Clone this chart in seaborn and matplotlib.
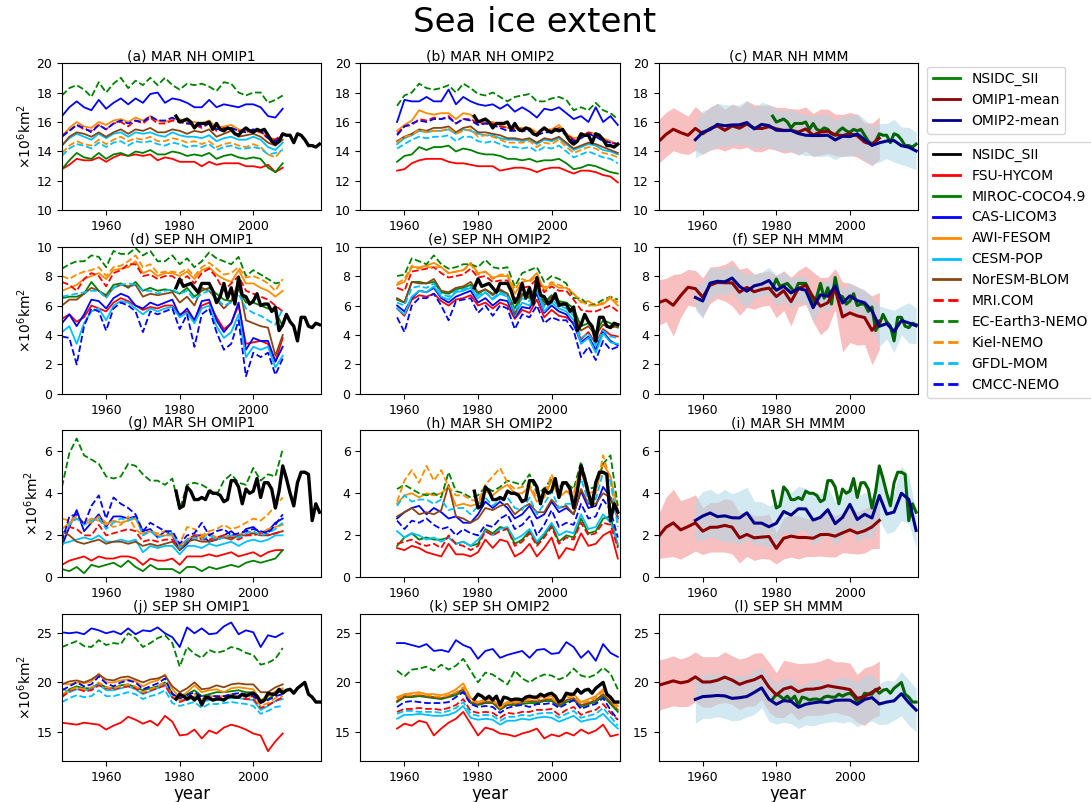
import numpy as np
import pandas as pd
import seaborn as sns
import matplotlib.pyplot as plt
from matplotlib.lines import Line2D

# x axes: OMIP1 1948-2008, OMIP2 1958-2018 (every 2nd year), NSIDC 1979-2018 (yearly)
years_omip1 = np.arange(1948, 2010, 2)
years_omip2 = np.arange(1958, 2020, 2)
years_obs = np.arange(1979, 2019)

models = ["FSU-HYCOM", "MIROC-COCO4.9", "CAS-LICOM3", "AWI-FESOM", "CESM-POP", "NorESM-BLOM",
          "MRI.COM", "EC-Earth3-NEMO", "Kiel-NEMO", "GFDL-MOM", "CMCC-NEMO"]
colors = {"FSU-HYCOM": "red", "MIROC-COCO4.9": "green", "CAS-LICOM3": "blue",
          "AWI-FESOM": "darkorange", "CESM-POP": "deepskyblue", "NorESM-BLOM": "saddlebrown",
          "MRI.COM": "red", "EC-Earth3-NEMO": "green", "Kiel-NEMO": "darkorange",
          "GFDL-MOM": "deepskyblue", "CMCC-NEMO": "blue"}
styles = {m: ("-" if i < 6 else "--") for i, m in enumerate(models)}

# ---- March NH (10^6 km2) ----
mar_nh_omip1 = {
    "FSU-HYCOM": [12.8, 13.1, 13.5, 13.4, 13.4, 13.6, 13.3, 13.6, 13.8, 13.7, 13.8, 13.7, 13.8, 13.4, 13.6, 13.5, 13.3, 13.3, 13.3, 13.0, 13.3, 13.1, 13.2, 13.2, 13.2, 13.0, 13.0, 12.9, 13.1, 12.6, 12.9],
    "MIROC-COCO4.9": [12.8, 13.4, 13.9, 13.6, 13.5, 13.9, 13.5, 13.8, 13.9, 13.7, 14.0, 13.9, 14.1, 13.8, 13.8, 14.0, 13.9, 13.7, 13.8, 13.7, 13.9, 13.5, 13.7, 13.8, 13.6, 13.5, 13.6, 13.5, 12.9, 12.6, 13.2],
    "CAS-LICOM3": [16.4, 17.0, 17.4, 17.0, 16.8, 17.5, 16.9, 17.3, 17.6, 17.2, 17.6, 17.3, 17.9, 18.0, 17.3, 17.6, 17.5, 17.3, 17.0, 17.0, 17.5, 17.0, 17.2, 17.1, 17.0, 17.2, 17.2, 17.0, 16.4, 16.3, 16.9],
    "AWI-FESOM": [15.0, 15.6, 16.0, 15.7, 15.6, 16.0, 15.8, 16.1, 16.2, 16.0, 16.3, 16.1, 16.4, 16.1, 16.0, 16.2, 16.2, 16.0, 16.0, 15.9, 16.1, 15.6, 15.7, 15.8, 15.5, 15.4, 15.4, 15.3, 15.0, 14.8, 15.1],
    "CESM-POP": [14.4, 14.9, 15.2, 15.0, 14.8, 15.2, 14.9, 15.2, 15.3, 15.0, 15.3, 15.2, 15.3, 15.1, 15.0, 15.3, 15.1, 15.0, 15.0, 14.9, 15.1, 14.7, 14.9, 15.0, 14.8, 14.8, 15.0, 14.8, 14.3, 14.1, 14.6],
    "NorESM-BLOM": [14.4, 15.0, 15.3, 15.2, 15.0, 15.3, 15.0, 15.3, 15.5, 15.2, 15.5, 15.4, 15.6, 15.3, 15.3, 15.5, 15.4, 15.2, 15.4, 15.3, 15.5, 15.0, 15.2, 15.4, 15.0, 15.1, 15.2, 15.0, 14.6, 14.4, 14.8],
    "MRI.COM": [15.1, 15.4, 15.8, 15.5, 15.4, 15.8, 15.5, 15.9, 16.0, 15.7, 16.1, 15.9, 16.3, 15.9, 15.9, 16.1, 16.0, 15.9, 15.8, 15.6, 15.9, 15.4, 15.6, 15.6, 15.4, 15.3, 15.5, 15.3, 14.9, 14.8, 15.2],
    "EC-Earth3-NEMO": [17.8, 18.3, 18.5, 18.2, 17.7, 18.7, 18.0, 18.6, 19.0, 18.3, 18.8, 18.5, 19.0, 18.5, 19.0, 18.5, 18.2, 18.6, 18.5, 18.6, 18.4, 18.1, 18.7, 18.6, 18.0, 17.8, 18.0, 18.0, 17.3, 17.5, 17.8],
    "Kiel-NEMO": [13.9, 14.4, 14.7, 14.5, 14.4, 14.8, 14.5, 14.8, 15.0, 14.7, 14.9, 14.8, 15.0, 14.7, 14.7, 14.9, 14.8, 14.6, 14.7, 14.5, 14.7, 14.3, 14.5, 14.6, 14.4, 14.3, 14.5, 14.3, 13.8, 13.6, 14.2],
    "GFDL-MOM": [13.7, 14.2, 14.5, 14.4, 14.2, 14.6, 14.3, 14.6, 14.7, 14.4, 14.7, 14.6, 14.7, 14.5, 14.4, 14.6, 14.5, 14.3, 14.4, 14.3, 14.5, 14.1, 14.3, 14.4, 14.2, 14.2, 14.3, 14.2, 13.8, 13.9, 14.1],
    "CMCC-NEMO": [15.0, 15.4, 15.8, 15.6, 15.3, 15.8, 15.5, 15.9, 16.1, 15.9, 16.1, 16.0, 16.4, 16.1, 16.1, 16.3, 16.0, 15.9, 15.9, 15.7, 15.9, 15.5, 15.5, 15.6, 15.4, 15.3, 15.5, 15.4, 14.9, 14.7, 15.1],
}
mar_nh_omip2 = {
    "FSU-HYCOM": [12.7, 12.8, 13.2, 13.4, 13.5, 13.5, 13.5, 13.3, 13.2, 13.2, 13.1, 13.0, 13.0, 13.0, 12.7, 12.8, 12.9, 12.9, 12.8, 12.6, 12.8, 12.9, 12.9, 12.7, 12.5, 12.7, 12.7, 12.6, 12.4, 12.3, 11.9],
    "MIROC-COCO4.9": [13.3, 13.7, 13.8, 14.3, 14.1, 14.3, 14.3, 14.4, 14.0, 14.2, 14.1, 13.9, 13.8, 13.8, 13.7, 13.5, 13.5, 13.4, 13.5, 13.3, 13.4, 13.4, 13.5, 13.2, 12.8, 12.9, 13.1, 13.0, 12.8, 12.6, 12.5],
    "CAS-LICOM3": [16.0, 17.5, 17.4, 17.4, 17.7, 17.4, 17.4, 18.2, 17.2, 17.7, 17.4, 17.2, 17.1, 17.2, 16.9, 17.2, 16.7, 17.0, 16.7, 16.3, 16.9, 16.8, 17.0, 16.6, 16.2, 16.4, 16.0, 17.0, 16.0, 16.4, 15.8],
    "AWI-FESOM": [15.4, 15.8, 16.1, 16.8, 16.6, 16.5, 16.6, 16.6, 16.2, 16.6, 16.5, 16.0, 16.0, 16.0, 15.8, 15.6, 15.6, 15.6, 15.6, 15.3, 15.5, 15.5, 15.8, 15.2, 14.9, 15.0, 15.3, 15.2, 14.9, 14.7, 14.5],
    "CESM-POP": [14.5, 14.9, 15.1, 15.4, 15.3, 15.4, 15.4, 15.5, 15.2, 15.5, 15.4, 15.2, 15.1, 15.1, 14.9, 14.8, 14.8, 14.7, 14.8, 14.5, 14.8, 14.7, 14.9, 14.5, 14.1, 14.3, 14.5, 14.4, 14.1, 14.0, 13.8],
    "NorESM-BLOM": [14.7, 15.0, 15.2, 15.5, 15.4, 15.6, 15.6, 15.7, 15.3, 15.6, 15.7, 15.3, 15.3, 15.2, 15.1, 14.9, 14.9, 14.8, 14.9, 14.6, 14.9, 14.8, 15.0, 14.6, 14.2, 14.4, 14.6, 14.5, 14.3, 14.1, 13.9],
    "MRI.COM": [15.2, 15.7, 15.8, 16.2, 16.1, 16.3, 16.2, 16.4, 15.9, 16.2, 16.2, 15.9, 15.9, 15.9, 15.7, 15.6, 15.5, 15.5, 15.5, 15.2, 15.5, 15.4, 15.6, 15.2, 14.8, 15.0, 15.3, 15.1, 14.8, 14.6, 14.5],
    "EC-Earth3-NEMO": [17.1, 17.8, 18.0, 18.6, 18.3, 18.2, 18.3, 18.5, 18.0, 18.6, 18.3, 17.9, 17.8, 18.0, 17.7, 17.4, 17.7, 17.8, 17.9, 17.4, 17.4, 17.6, 17.7, 17.5, 16.8, 17.0, 16.8, 17.3, 16.8, 16.6, 16.2],
    "Kiel-NEMO": [14.6, 15.0, 15.1, 15.5, 15.3, 15.4, 15.4, 15.6, 15.2, 15.4, 15.5, 15.0, 15.1, 15.0, 14.8, 14.6, 14.6, 14.6, 14.7, 14.3, 14.6, 14.5, 14.8, 14.3, 13.9, 14.1, 14.3, 14.2, 13.9, 13.8, 13.6],
    "GFDL-MOM": [14.2, 14.5, 14.8, 15.0, 14.9, 15.0, 15.0, 15.1, 14.7, 15.0, 15.0, 14.7, 14.6, 14.7, 14.5, 14.3, 14.3, 14.2, 14.3, 14.0, 14.3, 14.2, 14.4, 14.0, 13.6, 13.8, 14.0, 13.8, 13.6, 13.5, 13.2],
    "CMCC-NEMO": [15.1, 15.7, 15.9, 16.1, 16.0, 16.2, 16.2, 16.3, 15.9, 16.2, 16.1, 15.8, 15.9, 15.8, 15.6, 15.4, 15.4, 15.4, 15.4, 15.1, 15.3, 15.3, 15.5, 15.1, 14.7, 14.9, 15.2, 15.0, 14.7, 14.6, 14.5],
}
nsidc_mar_nh = [16.4, 16.0, 16.1, 16.2, 16.0, 15.6, 15.9, 15.9, 15.9, 16.0, 15.5, 15.9, 15.5, 15.4, 15.6, 15.5, 15.2, 15.1, 15.4, 15.6,
                15.4, 15.3, 15.5, 15.4, 15.5, 15.1, 14.7, 14.5, 14.7, 15.2, 15.1, 15.1, 14.6, 15.2, 15.1, 14.8, 14.4, 14.4, 14.3, 14.5]

# ---- September NH ----
sep_nh_omip1 = {
    "FSU-HYCOM": [5.1, 5.4, 4.9, 5.2, 6.0, 5.8, 5.6, 6.2, 6.5, 6.3, 6.0, 5.7, 5.9, 5.8, 6.0, 6.0, 5.4, 5.6, 5.0, 6.0, 6.2, 5.2, 4.4, 4.8, 6.0, 3.4, 3.5, 3.6, 3.4, 2.2, 3.8],
    "MIROC-COCO4.9": [6.5, 6.6, 6.6, 6.8, 7.6, 7.0, 6.7, 7.4, 7.5, 7.2, 7.6, 7.0, 7.2, 7.0, 7.1, 7.0, 6.8, 7.2, 6.6, 7.0, 7.2, 6.8, 6.4, 6.3, 7.1, 6.2, 6.2, 6.0, 5.8, 5.6, 4.6],
    "CAS-LICOM3": [4.8, 5.4, 4.6, 5.4, 6.4, 6.3, 5.8, 6.5, 6.8, 6.6, 6.0, 5.8, 6.2, 6.0, 6.2, 6.4, 5.3, 5.8, 5.0, 6.3, 6.4, 5.0, 4.2, 4.8, 6.2, 3.0, 3.8, 3.6, 3.6, 2.2, 3.2],
    "AWI-FESOM": [7.0, 7.2, 7.4, 7.8, 8.0, 8.2, 7.8, 8.4, 8.5, 8.6, 9.0, 8.2, 8.4, 8.0, 8.2, 8.2, 8.0, 8.3, 7.8, 8.4, 8.6, 8.1, 7.8, 7.6, 8.4, 7.5, 7.5, 7.2, 7.0, 6.6, 7.0],
    "CESM-POP": [4.2, 4.6, 3.4, 4.8, 5.6, 5.8, 5.0, 6.0, 6.3, 6.2, 5.8, 5.4, 5.8, 5.6, 5.8, 5.9, 5.2, 5.5, 4.8, 5.8, 6.0, 4.6, 3.8, 4.2, 5.4, 2.5, 3.2, 3.0, 3.2, 1.8, 2.6],
    "NorESM-BLOM": [6.0, 6.4, 6.4, 6.8, 7.2, 7.0, 6.6, 7.2, 7.4, 7.3, 7.4, 6.6, 6.8, 6.7, 6.8, 6.9, 6.2, 6.6, 6.0, 7.2, 7.0, 6.4, 5.8, 6.3, 7.6, 5.0, 4.8, 4.6, 4.5, 2.6, 4.0],
    "MRI.COM": [7.6, 7.4, 7.0, 7.8, 8.2, 8.0, 7.3, 8.2, 8.4, 8.8, 8.8, 8.0, 8.1, 7.8, 8.0, 8.0, 7.6, 8.0, 7.5, 8.2, 8.5, 7.9, 7.0, 7.5, 8.0, 7.0, 6.8, 6.6, 6.4, 6.0, 5.6],
    "EC-Earth3-NEMO": [8.5, 8.8, 9.0, 9.0, 9.4, 9.3, 8.6, 9.7, 9.5, 9.5, 9.9, 9.4, 9.7, 9.0, 9.0, 9.4, 8.8, 9.2, 8.6, 9.0, 9.6, 9.2, 9.0, 8.8, 9.3, 8.0, 8.4, 8.1, 7.8, 7.5, 7.6],
    "Kiel-NEMO": [8.0, 7.8, 8.1, 8.3, 8.4, 8.6, 8.0, 8.6, 8.7, 9.0, 9.4, 8.6, 8.8, 8.2, 8.3, 8.3, 8.2, 8.5, 8.0, 8.6, 8.9, 8.5, 8.1, 8.2, 8.6, 7.9, 8.0, 7.8, 7.5, 7.0, 7.8],
    "GFDL-MOM": [6.6, 6.7, 6.8, 6.9, 7.0, 7.0, 6.5, 7.2, 7.4, 7.5, 7.4, 7.0, 7.0, 6.8, 7.0, 7.1, 6.8, 7.0, 6.4, 6.8, 7.0, 6.5, 6.0, 6.2, 6.8, 5.8, 5.5, 5.3, 5.0, 4.7, 5.8],
    "CMCC-NEMO": [3.9, 3.8, 2.0, 4.6, 5.8, 5.6, 4.3, 5.8, 6.2, 6.0, 5.6, 4.2, 5.6, 5.4, 5.6, 5.8, 4.4, 5.4, 3.2, 5.4, 5.8, 4.2, 3.0, 3.4, 5.0, 1.2, 2.8, 2.5, 2.8, 1.3, 2.4],
}
sep_nh_omip2 = {
    "FSU-HYCOM": [5.8, 5.3, 6.4, 6.7, 6.6, 6.8, 6.3, 6.0, 6.4, 6.5, 6.7, 6.0, 6.2, 5.8, 6.2, 6.0, 5.1, 5.7, 5.5, 6.4, 5.2, 5.7, 5.3, 5.2, 4.8, 3.7, 4.2, 3.4, 4.4, 4.0, 3.9],
    "MIROC-COCO4.9": [6.4, 6.2, 7.6, 7.6, 7.5, 7.6, 6.9, 6.8, 7.1, 7.2, 7.4, 6.8, 7.1, 6.8, 7.0, 6.8, 5.8, 6.8, 6.5, 7.4, 6.2, 6.7, 6.3, 6.2, 5.8, 4.6, 4.8, 4.2, 5.0, 4.8, 4.5],
    "CAS-LICOM3": [6.0, 5.6, 6.5, 7.0, 6.9, 7.2, 6.5, 6.2, 6.6, 6.8, 7.0, 6.2, 6.5, 6.0, 6.4, 6.3, 5.2, 5.9, 5.8, 6.8, 5.5, 6.0, 5.6, 5.4, 4.7, 3.5, 3.9, 3.0, 4.2, 3.6, 3.3],
    "AWI-FESOM": [7.4, 7.6, 8.6, 8.6, 8.7, 8.9, 8.6, 8.2, 8.3, 8.4, 8.9, 8.2, 8.3, 7.9, 8.0, 8.0, 6.8, 7.6, 7.7, 8.2, 7.0, 7.5, 7.2, 7.2, 6.8, 6.2, 6.3, 6.0, 6.1, 6.5, 6.0],
    "CESM-POP": [5.8, 5.4, 6.6, 7.0, 6.9, 7.3, 6.6, 6.4, 6.9, 7.0, 7.2, 6.5, 6.9, 6.4, 6.8, 6.6, 5.3, 6.2, 6.0, 7.0, 5.6, 6.2, 5.8, 5.6, 5.0, 3.4, 3.8, 2.8, 4.1, 3.5, 3.4],
    "NorESM-BLOM": [6.5, 6.2, 7.6, 7.5, 7.5, 7.8, 7.0, 6.9, 7.2, 7.3, 7.6, 6.9, 7.1, 6.7, 7.1, 6.8, 5.4, 6.7, 6.6, 7.3, 6.0, 6.6, 6.2, 6.0, 5.5, 4.3, 4.6, 4.0, 4.7, 4.5, 4.6],
    "MRI.COM": [7.2, 7.0, 8.3, 8.4, 8.5, 8.6, 8.2, 7.9, 8.0, 8.1, 8.5, 7.9, 8.0, 7.6, 7.7, 7.7, 6.4, 7.2, 7.3, 7.8, 6.9, 7.3, 7.0, 7.0, 6.4, 5.7, 5.6, 5.6, 5.8, 6.0, 5.6],
    "EC-Earth3-NEMO": [8.0, 8.1, 9.2, 9.0, 8.8, 9.4, 8.8, 8.5, 8.6, 8.8, 8.8, 8.6, 9.1, 8.6, 8.5, 8.6, 7.3, 8.2, 8.4, 8.6, 7.6, 8.0, 7.8, 7.5, 6.5, 6.5, 6.0, 6.1, 6.4, 6.6, 6.4],
    "Kiel-NEMO": [7.5, 7.8, 8.7, 8.5, 8.6, 8.6, 8.6, 8.2, 8.3, 8.4, 8.8, 8.1, 8.3, 7.8, 8.1, 8.1, 7.1, 7.8, 7.6, 8.0, 7.2, 7.6, 7.4, 7.2, 6.8, 6.3, 6.0, 6.0, 6.2, 6.6, 6.2],
    "GFDL-MOM": [6.2, 6.0, 7.2, 7.3, 7.2, 7.5, 6.8, 6.6, 7.0, 7.1, 7.3, 6.7, 6.9, 6.5, 6.9, 6.7, 5.6, 6.5, 6.3, 7.1, 5.9, 6.4, 6.0, 5.8, 5.3, 3.8, 4.1, 3.3, 4.3, 3.9, 3.8],
    "CMCC-NEMO": [5.2, 4.2, 6.0, 6.5, 6.5, 6.8, 6.0, 5.0, 6.3, 6.4, 6.5, 5.5, 6.0, 5.3, 6.0, 5.8, 4.4, 5.4, 5.2, 6.0, 4.8, 5.2, 5.0, 5.0, 4.3, 2.5, 3.2, 2.3, 3.6, 3.0, 3.2],
}
nsidc_sep_nh = [7.2, 7.8, 7.3, 7.4, 7.5, 7.2, 6.9, 7.5, 7.5, 7.5, 7.0, 6.2, 6.6, 7.5, 6.5, 7.2, 6.1, 7.9, 6.7, 6.6,
                6.1, 6.3, 6.8, 6.0, 6.1, 6.1, 5.6, 5.9, 4.3, 4.7, 5.4, 4.9, 4.6, 3.6, 5.2, 5.2, 4.6, 4.5, 4.8, 4.7]

# ---- March SH ----
mar_sh_omip1 = {
    "FSU-HYCOM": [0.6, 0.8, 0.9, 1.0, 0.8, 1.0, 0.9, 0.9, 1.0, 1.0, 0.9, 0.6, 0.9, 0.8, 0.8, 0.9, 0.6, 1.0, 1.0, 1.0, 1.1, 1.0, 1.1, 1.2, 1.0, 1.1, 1.2, 1.0, 1.2, 1.3, 1.3],
    "MIROC-COCO4.9": [0.4, 0.3, 0.5, 0.2, 0.6, 0.5, 0.6, 0.7, 0.5, 0.8, 0.5, 0.3, 0.6, 0.4, 0.4, 0.4, 0.2, 0.5, 0.5, 0.3, 0.5, 0.4, 0.5, 0.6, 0.5, 0.7, 0.8, 0.7, 0.8, 0.9, 1.3],
    "CAS-LICOM3": [1.5, 2.4, 3.2, 2.2, 2.6, 3.0, 2.4, 2.9, 2.9, 2.8, 2.9, 2.2, 2.3, 1.9, 2.2, 2.0, 1.3, 1.6, 2.0, 2.0, 1.7, 1.8, 2.0, 2.2, 1.9, 2.3, 2.4, 2.1, 2.2, 2.6, 2.8],
    "AWI-FESOM": [2.3, 2.6, 2.8, 2.6, 2.8, 2.7, 2.5, 2.7, 2.6, 2.7, 2.8, 2.1, 2.2, 2.0, 2.0, 2.0, 1.5, 1.8, 2.0, 1.9, 2.1, 1.9, 2.0, 1.9, 2.0, 2.2, 2.1, 2.1, 2.3, 2.4, 2.5],
    "CESM-POP": [1.6, 1.7, 1.8, 1.9, 1.8, 2.0, 1.7, 1.7, 1.8, 1.7, 1.8, 1.2, 1.5, 1.4, 1.5, 1.5, 1.1, 1.5, 1.5, 1.4, 1.6, 1.5, 1.6, 1.7, 1.5, 1.7, 1.8, 1.7, 1.8, 2.0, 2.0],
    "NorESM-BLOM": [2.2, 2.0, 1.7, 1.6, 1.7, 1.8, 1.6, 1.7, 1.7, 1.6, 1.7, 1.5, 1.6, 1.5, 1.6, 1.7, 1.3, 1.7, 1.8, 1.7, 1.7, 1.8, 1.9, 1.8, 2.0, 2.0, 2.1, 2.0, 2.0, 2.1, 2.2],
    "MRI.COM": [2.0, 2.4, 2.3, 2.0, 2.0, 2.5, 2.0, 2.1, 2.2, 2.3, 2.2, 1.7, 1.8, 1.7, 1.8, 1.8, 1.4, 1.8, 2.0, 1.8, 1.8, 1.9, 2.0, 1.9, 1.8, 2.0, 2.0, 2.1, 2.0, 2.1, 2.2],
    "EC-Earth3-NEMO": [4.3, 5.9, 6.6, 5.8, 5.6, 5.4, 4.8, 4.7, 4.8, 5.4, 5.3, 4.9, 4.6, 4.6, 4.4, 4.7, 3.2, 4.4, 4.5, 4.4, 4.2, 3.9, 4.6, 4.9, 4.5, 4.4, 5.2, 4.6, 4.9, 4.8, 6.1],
    "Kiel-NEMO": [2.8, 2.7, 2.9, 2.6, 2.6, 2.9, 2.6, 2.4, 2.5, 2.9, 2.3, 2.0, 2.2, 2.1, 2.2, 2.1, 1.6, 2.4, 2.3, 2.0, 2.2, 2.3, 2.5, 2.3, 2.4, 2.6, 2.8, 2.7, 3.0, 3.4, 3.8],
    "GFDL-MOM": [2.0, 2.5, 2.8, 2.5, 2.7, 2.8, 2.3, 2.6, 2.8, 2.7, 2.9, 2.0, 2.2, 1.9, 2.0, 2.1, 1.4, 1.8, 1.9, 1.8, 2.0, 1.8, 1.9, 2.0, 1.9, 2.1, 2.2, 2.0, 2.1, 2.3, 2.6],
    "CMCC-NEMO": [1.7, 2.9, 3.0, 2.5, 3.4, 3.9, 2.8, 3.8, 3.5, 3.3, 3.0, 2.2, 2.6, 2.4, 2.2, 2.2, 1.6, 2.0, 2.1, 2.6, 2.0, 2.2, 2.3, 2.0, 2.1, 2.2, 2.3, 2.2, 2.1, 2.5, 3.0],
}
mar_sh_omip2 = {
    "FSU-HYCOM": [1.4, 1.3, 1.5, 1.4, 1.2, 1.1, 1.0, 1.6, 1.1, 1.1, 1.0, 1.2, 1.8, 1.4, 1.8, 1.7, 1.0, 1.2, 1.6, 1.0, 1.4, 1.9, 0.9, 1.4, 1.3, 2.1, 1.5, 1.6, 2.0, 2.2, 0.9],
    "MIROC-COCO4.9": [1.5, 1.9, 2.1, 1.8, 1.9, 1.8, 1.8, 1.9, 1.6, 1.7, 1.5, 1.6, 2.3, 2.1, 2.4, 2.3, 1.6, 1.8, 2.2, 1.6, 2.0, 2.5, 1.7, 2.0, 1.9, 2.8, 2.1, 2.2, 2.8, 2.9, 1.5],
    "CAS-LICOM3": [2.8, 3.1, 3.3, 3.4, 3.0, 3.3, 3.1, 2.8, 2.9, 2.6, 2.6, 3.0, 3.6, 3.3, 3.6, 3.3, 2.8, 3.0, 3.4, 2.8, 3.0, 3.6, 3.1, 3.3, 3.0, 4.1, 3.3, 3.4, 4.3, 3.8, 2.8],
    "AWI-FESOM": [3.5, 3.9, 4.0, 3.8, 4.0, 3.9, 4.0, 4.3, 3.4, 3.5, 3.4, 3.5, 4.1, 3.9, 4.2, 4.4, 4.0, 4.0, 4.3, 3.6, 3.8, 4.6, 3.8, 4.1, 3.8, 5.0, 4.0, 4.1, 5.4, 4.8, 3.2],
    "CESM-POP": [2.2, 1.9, 2.1, 2.0, 1.8, 1.9, 1.7, 1.9, 1.6, 1.7, 1.5, 1.8, 2.2, 2.0, 2.3, 2.4, 1.8, 2.0, 2.3, 1.7, 2.1, 2.6, 2.0, 2.2, 2.1, 3.0, 2.3, 2.4, 3.0, 2.6, 1.6],
    "NorESM-BLOM": [2.9, 3.1, 3.3, 3.0, 3.1, 3.0, 3.2, 4.4, 2.9, 2.8, 2.6, 2.8, 3.3, 3.2, 3.4, 3.5, 3.0, 3.3, 3.5, 3.1, 3.1, 3.7, 3.3, 3.4, 3.0, 4.2, 3.5, 3.5, 4.0, 3.8, 2.9],
    "MRI.COM": [1.6, 1.7, 1.8, 1.6, 1.5, 1.6, 1.4, 2.0, 1.6, 1.5, 1.3, 1.5, 2.2, 2.0, 2.2, 2.3, 1.5, 1.7, 2.1, 1.5, 1.9, 2.4, 1.6, 1.9, 1.8, 2.6, 2.0, 2.1, 2.6, 2.5, 1.4],
    "EC-Earth3-NEMO": [4.2, 4.4, 4.2, 4.0, 3.9, 4.0, 3.8, 5.0, 4.1, 4.0, 3.8, 3.9, 4.3, 4.1, 4.3, 4.6, 4.5, 4.4, 4.9, 4.0, 4.2, 4.7, 4.3, 4.5, 4.2, 5.5, 4.2, 4.3, 5.4, 5.8, 3.4],
    "Kiel-NEMO": [3.6, 4.6, 5.1, 4.5, 5.3, 4.6, 5.1, 4.3, 3.9, 3.9, 3.7, 3.6, 4.4, 4.8, 5.2, 4.5, 4.2, 4.3, 4.4, 3.8, 3.9, 4.9, 3.9, 4.1, 4.0, 5.3, 3.8, 4.0, 5.8, 4.6, 2.6],
    "GFDL-MOM": [3.4, 3.9, 3.6, 3.7, 3.7, 3.5, 3.7, 3.2, 3.3, 3.3, 3.0, 3.4, 3.8, 3.4, 3.7, 3.8, 3.3, 3.2, 3.8, 3.0, 3.5, 4.1, 3.3, 3.5, 3.5, 4.7, 3.6, 3.7, 5.0, 4.6, 2.4],
    "CMCC-NEMO": [2.7, 2.3, 2.7, 2.6, 2.8, 2.5, 2.3, 2.4, 2.0, 2.3, 2.1, 2.0, 2.5, 2.4, 2.8, 3.0, 2.3, 2.5, 2.9, 2.0, 2.5, 3.2, 2.4, 2.6, 2.5, 3.5, 2.8, 2.9, 3.7, 3.2, 1.9],
}
nsidc_mar_sh = [4.1, 3.3, 3.4, 4.3, 4.1, 3.7, 3.7, 3.8, 3.7, 4.1, 4.0, 4.0, 3.9, 3.6, 3.7, 4.6, 4.6, 4.3, 3.5, 4.2,
                4.0, 4.1, 4.7, 3.8, 4.5, 4.5, 4.2, 3.3, 4.1, 5.3, 4.7, 4.0, 3.4, 4.5, 5.0, 5.0, 4.9, 2.7, 3.5, 3.1]

# ---- September SH ----
sep_sh_omip1 = {
    "FSU-HYCOM": [15.9, 15.8, 15.7, 15.9, 15.8, 15.7, 15.2, 15.6, 15.9, 16.5, 16.2, 15.8, 16.1, 15.6, 16.6, 16.0, 14.6, 14.7, 15.2, 14.3, 15.1, 14.8, 15.4, 15.7, 15.5, 15.2, 14.8, 14.6, 13.0, 14.0, 14.8],
    "MIROC-COCO4.9": [18.6, 19.3, 19.6, 19.4, 19.4, 19.9, 19.5, 19.4, 19.7, 19.8, 19.5, 19.2, 19.4, 19.6, 20.0, 18.9, 18.3, 18.8, 19.2, 18.6, 18.8, 19.0, 19.0, 19.1, 19.2, 19.0, 19.0, 18.0, 18.3, 18.8, 19.2],
    "CAS-LICOM3": [25.1, 25.0, 25.1, 24.9, 25.5, 25.3, 25.0, 25.2, 24.9, 25.5, 24.9, 25.3, 25.2, 25.6, 25.0, 24.6, 23.6, 25.6, 25.0, 25.5, 24.9, 25.0, 25.7, 26.1, 24.9, 25.3, 25.1, 23.6, 24.8, 24.6, 25.0],
    "AWI-FESOM": [19.9, 19.8, 20.0, 19.9, 20.1, 20.9, 20.0, 20.0, 20.2, 20.3, 20.1, 19.6, 20.0, 20.2, 20.8, 19.3, 18.5, 19.0, 19.7, 19.0, 19.2, 19.3, 19.0, 19.4, 19.5, 19.4, 19.3, 18.2, 18.6, 19.1, 19.4],
    "CESM-POP": [19.4, 19.0, 19.3, 19.2, 19.3, 19.8, 19.2, 19.2, 19.4, 19.6, 19.3, 18.8, 19.1, 19.4, 19.8, 18.4, 18.2, 18.2, 18.5, 18.0, 18.2, 18.3, 18.3, 18.4, 18.4, 18.3, 18.2, 17.2, 17.6, 18.1, 18.3],
    "NorESM-BLOM": [19.8, 20.1, 20.2, 20.0, 20.3, 20.8, 20.3, 20.2, 20.5, 20.6, 20.3, 20.0, 20.3, 20.4, 20.7, 19.6, 19.0, 19.4, 20.0, 19.3, 19.4, 19.7, 19.5, 19.8, 19.9, 19.8, 19.8, 19.0, 19.0, 19.5, 19.8],
    "MRI.COM": [18.5, 19.1, 19.4, 19.1, 19.2, 19.7, 19.4, 19.3, 19.5, 19.6, 19.4, 18.9, 19.2, 19.4, 19.7, 18.5, 18.0, 18.3, 18.5, 18.1, 18.4, 18.4, 18.5, 18.6, 18.5, 18.3, 18.3, 17.4, 17.7, 18.1, 18.5],
    "EC-Earth3-NEMO": [23.6, 23.9, 24.2, 23.7, 23.6, 24.3, 23.8, 24.0, 23.9, 25.0, 24.5, 23.6, 24.0, 24.5, 24.8, 24.0, 21.6, 23.6, 22.9, 22.5, 23.3, 23.0, 23.2, 23.6, 23.4, 23.0, 22.8, 21.8, 22.0, 22.4, 23.5],
    "Kiel-NEMO": [18.8, 19.2, 19.5, 19.3, 19.5, 20.0, 19.5, 19.4, 19.6, 19.8, 19.6, 19.0, 19.3, 19.6, 20.1, 18.7, 18.2, 18.5, 18.8, 18.3, 18.6, 18.6, 18.6, 18.8, 18.7, 18.6, 18.5, 17.6, 17.9, 18.4, 18.6],
    "GFDL-MOM": [18.0, 18.4, 18.7, 18.5, 18.6, 19.2, 18.6, 18.6, 18.8, 19.0, 18.8, 18.3, 18.6, 18.8, 19.2, 17.9, 17.6, 17.8, 18.0, 17.4, 17.8, 17.8, 17.9, 18.0, 17.9, 17.8, 17.6, 16.8, 17.1, 17.5, 17.6],
    "CMCC-NEMO": [19.2, 19.6, 20.0, 19.6, 19.8, 20.6, 19.9, 19.6, 20.0, 20.2, 20.0, 19.3, 19.6, 19.9, 20.4, 18.8, 18.4, 18.7, 19.0, 18.5, 18.6, 18.6, 18.6, 18.8, 18.9, 18.8, 18.6, 17.9, 18.2, 18.6, 18.8],
}
sep_sh_omip2 = {
    "FSU-HYCOM": [15.3, 15.8, 15.6, 16.1, 15.9, 14.6, 15.3, 15.9, 16.3, 17.0, 15.8, 14.6, 15.4, 15.2, 14.8, 14.7, 14.5, 14.8, 15.0, 15.3, 14.3, 14.7, 14.5, 14.9, 14.6, 15.2, 14.8, 15.1, 15.7, 14.5, 14.7],
    "MIROC-COCO4.9": [18.0, 18.5, 18.5, 18.6, 18.5, 18.4, 18.3, 18.5, 18.7, 19.1, 17.9, 17.7, 17.9, 17.9, 17.2, 17.7, 17.7, 17.8, 17.9, 17.9, 18.1, 18.1, 17.6, 18.0, 18.2, 17.5, 17.8, 18.0, 18.6, 17.8, 17.0],
    "CAS-LICOM3": [24.0, 24.0, 23.8, 23.6, 23.9, 23.2, 23.3, 23.1, 24.3, 23.8, 23.5, 22.4, 23.2, 23.4, 22.5, 22.8, 23.0, 23.2, 22.5, 23.3, 23.4, 22.9, 23.0, 24.1, 23.6, 22.5, 23.2, 22.2, 23.9, 23.0, 22.6],
    "AWI-FESOM": [18.5, 18.8, 18.9, 19.0, 18.8, 18.8, 18.7, 18.9, 19.3, 19.9, 18.4, 18.0, 18.3, 18.2, 17.6, 18.0, 18.0, 18.2, 18.4, 18.4, 18.6, 18.6, 18.0, 18.6, 18.8, 18.0, 18.3, 18.6, 19.3, 18.4, 17.6],
    "CESM-POP": [16.3, 16.7, 16.7, 16.8, 16.7, 16.6, 16.6, 16.7, 17.0, 17.6, 16.4, 16.2, 16.3, 16.2, 15.7, 16.1, 16.1, 16.3, 16.2, 16.4, 16.5, 16.4, 16.0, 16.3, 16.6, 16.0, 16.2, 16.3, 16.8, 16.0, 15.3],
    "NorESM-BLOM": [18.1, 18.6, 18.6, 18.7, 18.6, 18.5, 18.4, 18.6, 18.9, 19.3, 18.0, 17.8, 18.0, 18.0, 17.3, 17.8, 17.8, 18.0, 18.1, 18.1, 18.2, 18.3, 17.7, 18.2, 18.4, 17.7, 17.9, 18.2, 18.8, 18.0, 17.2],
    "MRI.COM": [17.0, 17.3, 17.3, 17.4, 17.3, 17.3, 17.2, 17.4, 17.7, 18.3, 17.1, 16.9, 17.0, 16.9, 16.4, 16.9, 16.8, 17.0, 17.0, 17.2, 17.2, 17.3, 16.7, 17.2, 17.5, 16.7, 17.0, 17.2, 17.8, 16.9, 16.2],
    "EC-Earth3-NEMO": [21.2, 20.6, 21.3, 21.4, 21.6, 21.2, 21.8, 21.3, 21.7, 22.4, 21.2, 20.0, 21.0, 20.8, 20.3, 19.8, 21.2, 20.4, 20.0, 20.5, 20.8, 20.7, 20.3, 20.6, 21.4, 20.7, 20.5, 20.8, 21.5, 20.9, 19.3],
    "Kiel-NEMO": [18.3, 18.7, 18.7, 18.8, 18.7, 18.6, 18.5, 18.7, 19.0, 19.5, 18.2, 17.9, 18.2, 18.1, 17.4, 17.9, 17.9, 18.1, 18.2, 18.2, 18.4, 18.4, 17.8, 18.4, 18.6, 17.8, 18.1, 18.4, 19.1, 18.2, 17.3],
    "GFDL-MOM": [16.8, 17.1, 17.1, 17.0, 17.0, 17.0, 16.9, 17.1, 17.4, 18.0, 16.8, 16.6, 16.7, 16.6, 16.1, 16.5, 16.5, 16.7, 16.6, 16.8, 16.9, 16.9, 16.4, 16.8, 17.1, 16.4, 16.6, 16.8, 17.4, 16.5, 15.6],
    "CMCC-NEMO": [17.5, 18.0, 18.1, 18.0, 17.9, 17.9, 17.9, 18.0, 18.5, 19.0, 17.8, 17.5, 17.6, 17.5, 16.9, 17.4, 17.6, 17.7, 17.5, 17.8, 17.8, 17.9, 17.4, 17.8, 18.2, 17.3, 17.6, 17.8, 18.4, 17.2, 16.2],
}
nsidc_sep_sh = [18.3, 18.8, 18.6, 18.3, 18.6, 18.2, 18.6, 17.7, 18.5, 18.4, 18.2, 18.3, 18.3, 18.2, 18.5, 18.6, 18.5, 18.5, 18.8, 18.6,
                18.8, 18.9, 18.6, 18.0, 18.2, 18.9, 18.8, 18.8, 19.3, 18.9, 19.2, 19.3, 18.9, 19.4, 19.7, 20.0, 18.8, 18.5, 18.0, 18.0]

rows = [
    ("MAR NH", mar_nh_omip1, mar_nh_omip2, nsidc_mar_nh, (10, 20), [10, 12, 14, 16, 18, 20]),
    ("SEP NH", sep_nh_omip1, sep_nh_omip2, nsidc_sep_nh, (0, 10), [0, 2, 4, 6, 8, 10]),
    ("MAR SH", mar_sh_omip1, mar_sh_omip2, nsidc_mar_sh, (0, 7), [0, 2, 4, 6]),
    ("SEP SH", sep_sh_omip1, sep_sh_omip2, nsidc_sep_sh, (12, 27), [15, 20, 25]),
]
letters = "abcdefghijkl"

fig, axes = plt.subplots(4, 3, figsize=(10.91, 8.02))
fig.subplots_adjust(left=0.0568, right=0.8414, top=0.9214, bottom=0.0511, wspace=0.15, hspace=0.245)

for r, (name, d1, d2, obs, ylim, yticks) in enumerate(rows):
    # model panels
    for c, (d, yrs, tag) in enumerate([(d1, years_omip1, "OMIP1"), (d2, years_omip2, "OMIP2")]):
        ax = axes[r, c]
        for m in models:
            sns.lineplot(x=yrs, y=d[m], color=colors[m], linestyle=styles[m], lw=1.3,
                         estimator=None, ax=ax)
        sns.lineplot(x=years_obs, y=obs, color="black", lw=2.4, estimator=None, ax=ax)
        ax.set_title(f"({letters[3 * r + c]}) {name} {tag}", fontsize=10, pad=2)

    # multi-model mean panel
    ax = axes[r, 2]
    means = []
    for d, yrs, shade, a in [(d1, years_omip1, "lightcoral", 0.5), (d2, years_omip2, "lightblue", 0.55)]:
        df = pd.DataFrame(d, index=yrs)
        mean, std = df.mean(axis=1), df.std(axis=1)
        ax.fill_between(yrs, mean - std, mean + std, color=shade, alpha=a, lw=0)
        means.append(mean)
    sns.lineplot(x=years_obs, y=obs, color="darkgreen", lw=2.2, estimator=None, ax=ax)
    sns.lineplot(x=years_omip1, y=means[0].values, color="darkred", lw=2.2, estimator=None, ax=ax)
    sns.lineplot(x=years_omip2, y=means[1].values, color="darkblue", lw=2.2, estimator=None, ax=ax)
    ax.set_title(f"({letters[3 * r + 2]}) {name} MMM", fontsize=10, pad=2)

    for ax in axes[r]:
        ax.set_xlim(1948, 2018.5)
        ax.set_ylim(*ylim)
        ax.set_yticks(yticks)
        ax.set_xticks([1960, 1980, 2000])
        ax.tick_params(labelsize=9)
        ax.set_xlabel("year" if r == 3 else "", fontsize=12, labelpad=1)
        ax.set_ylabel("")
    axes[r, 0].set_ylabel(r"$\times10^{6}$km$^{2}$", fontsize=10, labelpad=2)

fig.suptitle("Sea ice extent", fontsize=24.5, x=0.49, y=0.993)

# legends on the right
h1 = [Line2D([], [], color="green", lw=2), Line2D([], [], color="darkred", lw=2),
      Line2D([], [], color="darkblue", lw=2)]
fig.legend(h1, ["NSIDC_SII", "OMIP1-mean", "OMIP2-mean"], loc="upper left",
           bbox_to_anchor=(0.8497, 0.917), borderaxespad=0, fontsize=10)
h2 = [Line2D([], [], color="black", lw=2)] + \
     [Line2D([], [], color=colors[m], linestyle=styles[m], lw=2) for m in models]
fig.legend(h2, ["NSIDC_SII"] + models, loc="upper left",
           bbox_to_anchor=(0.8497, 0.823), borderaxespad=0, fontsize=10)

plt.savefig("out.png", dpi=100)
